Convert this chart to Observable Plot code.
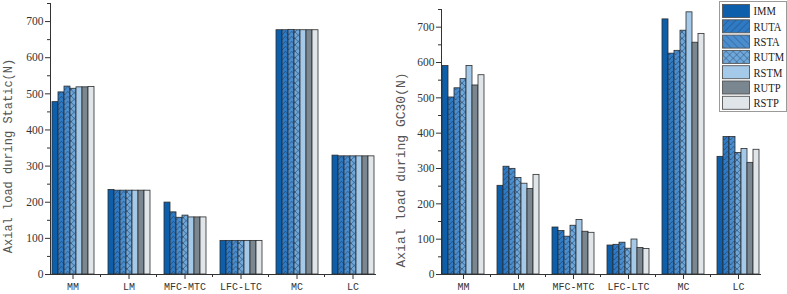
<!DOCTYPE html>
<html><head><meta charset="utf-8">
<script src="https://cdn.jsdelivr.net/npm/d3@7"></script>
<script src="https://cdn.jsdelivr.net/npm/@observablehq/plot@0.6"></script>
<style>
body{margin:0;background:#fff;}
#wrap{position:relative;width:787px;height:294px;overflow:hidden;background:#fff;}
.chart{position:absolute;top:0;}
.ytitle{position:absolute;font-family:"Liberation Mono",monospace;color:#555;white-space:nowrap;transform:translate(-50%,-50%) rotate(-90deg);}
#legend{position:absolute;left:719px;top:1px;}
</style></head>
<body><div id="wrap">
<svg width="0" height="0" style="position:absolute">
<defs id="defs"></defs>
</svg>
</div>
<script>
// ---------- data ----------
const categories = ["MM", "LM", "MFC-MTC", "LFC-LTC", "MC", "LC"];
const series = ["IMM", "RUTA", "RSTA", "RUTM", "RSTM", "RUTP", "RSTP"];
const yTicks = [0, 100, 200, 300, 400, 500, 600, 700];
const yMinorTicks = [50, 150, 250, 350, 450, 550, 650, 750];

// Static (values in category order)
const staticIMM  = [477, 234, 199, 93, 676, 329];
const staticRUTA = [504, 232, 172, 93, 676, 327];
const staticRSTA = [520, 232, 157, 93, 677, 327];
const staticRUTM = [514, 232, 163, 93, 676, 327];
const staticRSTM = [518, 232, 158, 93, 676, 327];
const staticRUTP = [518, 232, 158, 93, 676, 327];
const staticRSTP = [519, 232, 158, 93, 676, 327];

// GC30
const gcIMM  = [590, 251, 133, 82, 722, 333];
const gcRUTA = [501, 305, 123, 84, 625, 389];
const gcRSTA = [527, 299, 107, 90, 633, 389];
const gcRUTM = [553, 273, 138, 73, 690, 344];
const gcRSTM = [590, 257, 154, 99, 742, 355];
const gcRUTP = [535, 242, 121, 75, 656, 316];
const gcRSTP = [564, 282, 118, 72, 681, 353];

const staticSeries = [staticIMM, staticRUTA, staticRSTA, staticRUTM, staticRSTM, staticRUTP, staticRSTP];
const gcSeries = [gcIMM, gcRUTA, gcRSTA, gcRUTM, gcRSTM, gcRUTP, gcRSTP];

// ---------- styles ----------
const baseColors = ["#0d5fac", "#2e7ac4", "#4a8ed0", "#6fa8da", "#a5c9e8", "#7a8791", "#dfe5e8"];
const lineColor = "#1f3b5e";

// patterns
const defs = d3.select("#defs");
function chevron(id, base) {
  const p = defs.append("pattern").attr("id", id).attr("patternUnits", "userSpaceOnUse")
    .attr("width", 6.4).attr("height", 5);
  p.append("rect").attr("width", 6.4).attr("height", 5).attr("fill", base);
  p.append("path").attr("d", "M0,5 L3.2,1.2 L6.4,5").attr("fill", "none").attr("stroke", lineColor).attr("stroke-width", 0.6);
}
function cross(id, base) {
  const p = defs.append("pattern").attr("id", id).attr("patternUnits", "userSpaceOnUse")
    .attr("width", 6.4).attr("height", 6.4);
  p.append("rect").attr("width", 6.4).attr("height", 6.4).attr("fill", base);
  p.append("path").attr("d", "M0,0 L6.4,6.4 M6.4,0 L0,6.4").attr("fill", "none").attr("stroke", lineColor).attr("stroke-width", 0.6);
}
function hatch(id, base, angle, both) {
  const p = defs.append("pattern").attr("id", id).attr("patternUnits", "userSpaceOnUse")
    .attr("width", 5).attr("height", 5).attr("patternTransform", `rotate(${angle})`);
  p.append("rect").attr("width", 5).attr("height", 5).attr("fill", base);
  p.append("line").attr("x1", 0).attr("y1", 0).attr("x2", 0).attr("y2", 5).attr("stroke", lineColor).attr("stroke-width", 0.7);
  if (both) p.append("line").attr("x1", 0).attr("y1", 0).attr("x2", 5).attr("y2", 0).attr("stroke", lineColor).attr("stroke-width", 0.7);
}
chevron("c-RUTA", baseColors[1]);
chevron("c-RSTA", baseColors[2]);
cross("c-RUTM", baseColors[3]);
hatch("l-RUTA", baseColors[1], 45, false);
hatch("l-RSTA", baseColors[2], -45, false);
hatch("l-RUTM", baseColors[3], 45, true);

const chartFill = series.map((s, i) => (i >= 1 && i <= 3) ? `url(#c-${s})` : baseColors[i]);
const legendFill = series.map((s, i) => (i >= 1 && i <= 3) ? `url(#l-${s})` : baseColors[i]);

function makeChart(seriesValues, {width, marginLeft, marginRight, marginTop}) {
  const data = [];
  categories.forEach((c, ci) => series.forEach((s, si) => data.push({cat: c, series: s, value: seriesValues[si][ci]})));
  const boundaryTicks = Plot.frame({
    facet: "super",
    render: (I, scales, values, dims) => {
      const g = d3.create("svg:g");
      const fx = scales.fx;
      if (!fx || !fx.bandwidth) return g.node();
      const bw = fx.bandwidth();
      const step = fx.step ? fx.step() : (fx(categories[1]) - fx(categories[0]));
      const y0 = dims.height - dims.marginBottom;
      for (let i = 1; i < categories.length; i++) {
        const xx = fx(categories[i]) - (step - bw) / 2;
        g.append("line").attr("x1", xx).attr("x2", xx).attr("y1", y0).attr("y2", y0 + 3)
          .attr("stroke", "#333").attr("stroke-width", 1);
      }
      return g.node();
    }
  });
  return Plot.plot({
    width, height: 294, marginLeft, marginRight, marginTop, marginBottom: 20,
    style: {fontFamily: "'Liberation Serif', serif", fontSize: "11.5px", color: "#333", background: "transparent"},
    fx: {domain: categories, paddingInner: 0.2, paddingOuter: 0.1, label: null},
    x: {domain: series, padding: 0, axis: null},
    y: {domain: [0, 750], label: null},
    color: {domain: series, range: chartFill},
    marks: [
      Plot.barY(data, {fx: "cat", x: "series", y: "value", fill: "series", stroke: "#2b2b2b", strokeWidth: 0.8, inset: 0}),
      Plot.axisY({ticks: yTicks, tickSize: 5, tickPadding: 2, label: null, stroke: "#333"}),
      Plot.axisY({ticks: yMinorTicks, tickSize: 3, tickFormat: () => "", label: null, stroke: "#333"}),
      Plot.axisFx({anchor: "bottom", tickSize: 5, tickPadding: 3, label: null, fontFamily: "'Liberation Mono', monospace", fontSize: 10, stroke: "#333"}),
      Plot.frame({anchor: "left", facet: "super", stroke: "#333"}),
      Plot.frame({anchor: "bottom", facet: "super", stroke: "#333"}),
      boundaryTicks
    ]
  });
}

const wrap = document.getElementById("wrap");
const left = makeChart(staticSeries, {width: 390, marginLeft: 43, marginRight: 9, marginTop: 3});
left.classList.add("chart"); left.style.left = "0px";
wrap.appendChild(left);
const right = makeChart(gcSeries, {width: 397, marginLeft: 43, marginRight: 20, marginTop: 9});
right.classList.add("chart"); right.style.left = "390px";
wrap.appendChild(right);

// axis titles
function title(text, cx, cy, size) {
  const d = document.createElement("div");
  d.className = "ytitle"; d.textContent = text;
  d.style.left = cx + "px"; d.style.top = cy + "px"; d.style.fontSize = size + "px";
  wrap.appendChild(d);
}
title("Axial load during Static(N)", 9, 156, 12);
title("Axial load during GC30(N)", 401, 170, 13);

// legend
const lg = d3.select(wrap).append("svg").attr("id", "legend").attr("width", 68).attr("height", 111);
lg.append("rect").attr("x", 0.5).attr("y", 0.5).attr("width", 67).attr("height", 110)
  .attr("fill", "#fff").attr("stroke", "#9a9a9a");
series.forEach((s, i) => {
  const y = 3 + i * 15.3;
  lg.append("rect").attr("x", 3.5).attr("y", y + 0.5).attr("width", 27).attr("height", 13)
    .attr("fill", legendFill[i]).attr("stroke", "#555").attr("stroke-width", 0.9);
  const t = lg.append("text").attr("x", 34.5).attr("y", y + 11.3)
    .attr("font-family", "'Liberation Serif', serif").attr("font-size", 11.5).attr("fill", "#222").text(s);
  const w = t.node().getComputedTextLength();
  t.attr("textLength", w * 0.92).attr("lengthAdjust", "spacingAndGlyphs");
});
</script>
</body></html>
